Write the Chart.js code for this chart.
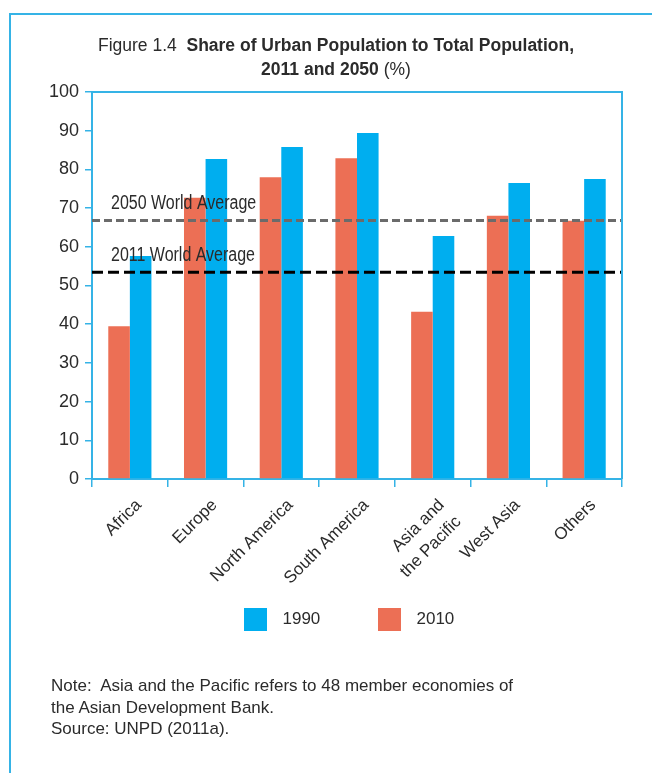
<!DOCTYPE html>
<html><head><meta charset="utf-8">
<script src="https://cdn.jsdelivr.net/npm/chart.js@4.4.1/dist/chart.umd.min.js"></script>
<style>
html,body{margin:0;padding:0;background:#fff;}
#wrap{position:relative;width:652px;height:773px;overflow:hidden;font-family:'Liberation Sans',Arial,sans-serif;color:#2b2b2b;}
#frame{position:absolute;left:9px;top:13px;width:700px;height:800px;border-left:2px solid #35b3e6;border-top:2px solid #35b3e6;}
#chartbox{position:absolute;left:0;top:0;width:652px;height:773px;}
#title{position:absolute;left:0;top:33px;width:672px;text-align:center;font-size:17.5px;line-height:24px;}
#note{position:absolute;left:51px;top:675px;font-size:17px;line-height:21.7px;white-space:nowrap;}
</style></head>
<body>
<div id="wrap">
  <div id="frame"></div>
  <div id="chartbox"><canvas id="c" width="652" height="773"></canvas></div>
  <div id="title">Figure 1.4&nbsp; <b>Share of Urban Population to Total Population,</b><br><b>2011 and 2050</b> (%)</div>
  <div id="note">Note:&nbsp; Asia and the Pacific refers to 48 member economies of<br>the Asian Development Bank.<br>Source: UNPD (2011a).</div>
</div>
<script>
const categories = ['Africa', 'Europe', 'North America', 'South America', ['Asia and', 'the Pacific'], 'West Asia', 'Others'];
const series1990 = [57.6, 82.7, 85.8, 89.4, 62.8, 76.5, 77.5];
const series2010 = [39.5, 72.7, 78.0, 82.9, 43.2, 68.0, 66.7];
const averageValues = [66.8, 53.4];
const averageLabels = ['2050 World Average', '2011 World Average'];
const yTickValues = [0, 10, 20, 30, 40, 50, 60, 70, 80, 90, 100];

const BLUE = '#00AEEF';
const ORANGE = '#EC6F55';
const FRAME = '#35b3e6';
const TEXT = '#2b2b2b';

function makeSwatch(color) {
  const c = document.createElement('canvas');
  c.width = 30; c.height = 23;
  const g = c.getContext('2d');
  g.fillStyle = color;
  g.fillRect(0, 0, 23, 23);
  return c;
}

const averagePlugin = {
  id: 'averages',
  afterDatasetsDraw(chart) {
    const {ctx, chartArea, scales} = chart;
    const styles = [
      {color: '#6b6b6b', dash: [8, 4]},
      {color: '#000000', dash: [11, 5]}
    ];
    ctx.save();
    averageValues.forEach((v, i) => {
      const y = scales.y.getPixelForValue(v);
      ctx.beginPath();
      ctx.setLineDash(styles[i].dash);
      ctx.lineWidth = 3;
      ctx.strokeStyle = styles[i].color;
      ctx.moveTo(chartArea.left, y);
      ctx.lineTo(chartArea.right, y);
      ctx.stroke();
      ctx.setLineDash([]);
      ctx.save();
      ctx.translate(chartArea.left + 19, y - 11);
      ctx.scale(0.82, 1);
      ctx.font = "19.5px 'Liberation Sans', sans-serif";
      ctx.fillStyle = TEXT;
      ctx.textAlign = 'left';
      ctx.textBaseline = 'alphabetic';
      ctx.fillText(averageLabels[i], 0, 0);
      ctx.restore();
    });
    ctx.restore();
  },
  afterDraw(chart) {
    const {ctx, chartArea} = chart;
    ctx.save();
    ctx.strokeStyle = FRAME;
    ctx.lineWidth = 2;
    ctx.beginPath();
    ctx.moveTo(chartArea.left, chartArea.top);
    ctx.lineTo(chartArea.right, chartArea.top);
    ctx.lineTo(chartArea.right, chartArea.bottom);
    ctx.stroke();
    ctx.restore();
  }
};

new Chart(document.getElementById('c'), {
  type: 'bar',
  data: {
    labels: categories,
    datasets: [
      {label: '2010', data: series2010, backgroundColor: ORANGE, borderWidth: 0},
      {label: '1990', data: series1990, backgroundColor: BLUE, borderWidth: 0}
    ]
  },
  options: {
    responsive: false,
    devicePixelRatio: 1,
    animation: false,
    datasets: {bar: {categoryPercentage: 0.57, barPercentage: 1.0}},
    layout: {padding: {top: 92, right: 0.7, left: 47, bottom: 135}},
    plugins: {
      tooltip: {enabled: false},
      title: {display: false},
      legend: {
        position: 'bottom',
        reverse: true,
        fullSize: true,
        title: {display: true, text: '', font: {size: 10, lineHeight: 1}, padding: {top: -22.85, bottom: -22.85}},
        labels: {
          usePointStyle: true, pointStyleWidth: 30,
          boxWidth: 23, boxHeight: 23, padding: 57.7,
          color: TEXT,
          font: {family: "'Liberation Sans', sans-serif", size: 17},
          generateLabels(chart) {
            const items = Chart.defaults.plugins.legend.labels.generateLabels(chart);
            items.forEach(it => { it.pointStyle = makeSwatch(it.fillStyle); it.lineWidth = 0; });
            return items;
          }
        }
      }
    },
    scales: {
      x: {
        afterFit(scale) { scale.height = 110; },
        grid: {display: true, drawOnChartArea: false, drawTicks: true, tickLength: 8, color: FRAME, lineWidth: 1.5, offset: true},
        border: {display: true, color: FRAME, width: 2},
        ticks: {
          autoSkip: false, minRotation: 45, maxRotation: 45, padding: 7, labelOffset: 9,
          color: TEXT,
          font: {family: "'Liberation Sans', sans-serif", size: 17, lineHeight: 1.4}
        }
      },
      y: {
        min: 0, max: 100,
        afterFit(scale) { scale.width = 45; },
        afterBuildTicks(scale) { scale.ticks = yTickValues.map(v => ({value: v})); },
        grid: {display: true, drawOnChartArea: false, drawTicks: true, tickLength: 7, color: FRAME, lineWidth: 1.5},
        border: {display: true, color: FRAME, width: 2},
        ticks: {
          padding: 6,
          color: TEXT,
          font: {family: "'Liberation Sans', sans-serif", size: 18}
        }
      },
      yPad: {
        type: 'linear',
        position: 'right',
        afterFit(scale) { scale.width = 29.3; },
        grid: {display: false},
        border: {display: false},
        ticks: {display: false}
      }
    }
  },
  plugins: [averagePlugin]
});
</script>
</body></html>
